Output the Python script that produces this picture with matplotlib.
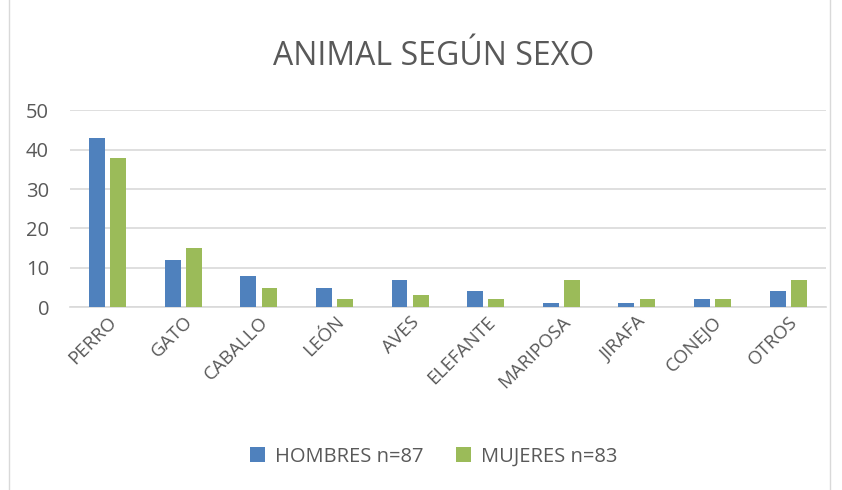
import matplotlib
matplotlib.use("Agg")
import matplotlib.pyplot as plt
import numpy as np

# ── Data ────────────────────────────────────────────────────────────────────
animals = ["PERRO", "GATO", "CABALLO", "LEÓN", "AVES", "ELEFANTE",
           "MARIPOSA", "JIRAFA", "CONEJO", "OTROS"]
hombres = [43, 12, 8, 5, 7, 4, 1, 1, 2, 4]
mujeres = [38, 15, 5, 2, 3, 2, 7, 2, 2, 7]

BLUE  = "#4F81BD"
GREEN = "#9BBB59"
TEXT  = "#595959"

plt.rcParams["font.family"] = ["Open Sans", "DejaVu Sans"]

# ── Chart ───────────────────────────────────────────────────────────────────
fig = plt.figure(figsize=(8.42, 4.90), dpi=100)
ax = fig.add_axes([0.083, 0.373, 0.898, 0.402])

x = np.arange(len(animals))
w = 0.21
ax.bar(x - 0.14, hombres, w, color=BLUE, label="HOMBRES n=87", zorder=3)
ax.bar(x + 0.14, mujeres, w, color=GREEN, label="MUJERES n=83", zorder=3)

ax.set_xlim(-0.5, len(animals) - 0.5)
ax.set_ylim(0, 50)
ax.set_yticks(range(0, 51, 10))
ax.yaxis.grid(True, color="#D9D9D9", linewidth=1.2, zorder=0)
ax.tick_params(axis="y", length=0, labelsize=14.5, labelcolor=TEXT, pad=15)
ax.tick_params(axis="x", length=0, labelsize=13.5, labelcolor=TEXT, pad=4)
ax.set_xticks(x)
ax.set_xticklabels(animals, rotation=45, ha="right", rotation_mode="anchor")
for s in ["top", "right", "left"]:
    ax.spines[s].set_visible(False)
ax.spines["bottom"].set_color("#D9D9D9")
ax.spines["bottom"].set_linewidth(1.2)

fig.text(0.515, 0.885, "ANIMAL SEGÚN SEXO", ha="center", va="center",
         fontsize=23, color=TEXT)

fig.legend(loc="center", bbox_to_anchor=(0.515, 0.068), ncol=2, frameon=False,
           fontsize=14.5, labelcolor=TEXT, handlelength=0.75, handleheight=0.75,
           handletextpad=0.5, columnspacing=1.6)

# chart border
fig.add_artist(plt.Rectangle((0.011, -0.01), 0.975, 1.03, transform=fig.transFigure,
                             fill=False, edgecolor="#D9D9D9", linewidth=1))

plt.savefig("out.png", dpi=100)
plt.close()
